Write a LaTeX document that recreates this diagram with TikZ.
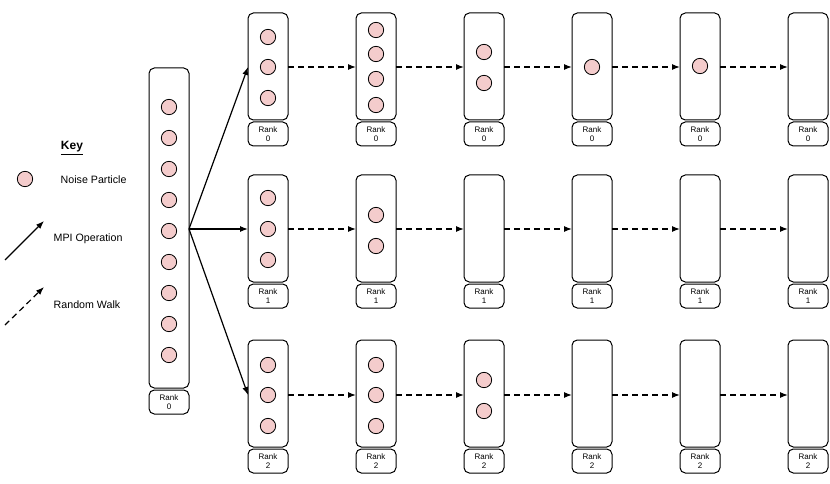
\documentclass[tikz,border=0pt]{standalone}
\usepackage{fontspec}
\setmainfont{Liberation Sans}
\usetikzlibrary{arrows.meta}
\definecolor{pk}{HTML}{F4CCCC}
\begin{document}
\begin{tikzpicture}[x=0.75pt,y=-0.75pt,
  box/.style={draw,rounded corners=4pt,line width=0.75pt},
  part/.style={circle,draw,fill=pk,minimum size=11.5pt,inner sep=0pt,line width=0.6pt},
  rk/.style={font=\fontsize{6}{6.5}\selectfont,align=center},
  mpi/.style={-{Latex[length=6pt,width=4.5pt]},line width=0.9pt},
  rw/.style={-{Latex[length=6pt,width=4.5pt]},line width=0.9pt,dash pattern=on 4.5pt off 3pt},
  lab/.style={font=\fontsize{8}{9}\selectfont,anchor=west}]
\useasboundingbox (0,0) rectangle (830,484);
% big box
\draw[box] (149,68) rectangle (189,388);
\coordinate (bigR) at (189,229);
\draw[box] (149,390) rectangle (189,414);
\node[rk] (bigrk) at (169,402) {Rank\\0};
\foreach \y in {107,138,169,200,231,262,293,324,355} \node[part] at (169,\y) {};
% grid
\foreach \r/\t/\m in {0/13/67,1/175/229,2/340/395}{
  \foreach \c in {0,...,5}{
    \pgfmathsetmacro\xl{248+108*\c}
    \draw[box] (\xl,\t) rectangle ++(40,107);
    \draw[box] (\xl,\t+109) rectangle ++(40,24);
    \node[rk] at (\xl+20,\t+121) {Rank\\\r};
    \coordinate (L\r\c) at (\xl,\m);
    \coordinate (R\r\c) at (\xl+40,\m);
  }
  \foreach \c [evaluate=\c as \n using int(\c+1)] in {0,...,4}
    \draw[rw] (R\r\c) -- (L\r\n);
  \draw[mpi] (bigR) -- (L\r0);
}
% particles
\foreach \x/\y in {268/37,268/67,268/98, 376/30,376/54,376/79,376/105, 484/52,484/83, 592/67, 700/66,
  268/198,268/229,268/260, 376/215,376/246,
  268/365,268/395,268/426, 376/365,376/395,376/426, 484/380,484/411}
  \node[part] at (\x,\y) {};
% key
\node[font=\bfseries\fontsize{9}{10}\selectfont] (key) at (72,148) {\underline{Key}};
\node[part] (kp) at (25,179) {};
\node[lab] (kpl) at (56,180) {Noise Particle};
\coordinate (m1) at (5,260); \coordinate (m2) at (44,221);
\draw[mpi] (m1) -- (m2);
\node[lab] (kml) at (49,239) {MPI Operation};
\coordinate (r1) at (5,325); \coordinate (r2) at (44,287);
\draw[rw] (r1) -- (r2);
\node[lab] (krl) at (49,305) {Random Walk};
\end{tikzpicture}
\end{document}
